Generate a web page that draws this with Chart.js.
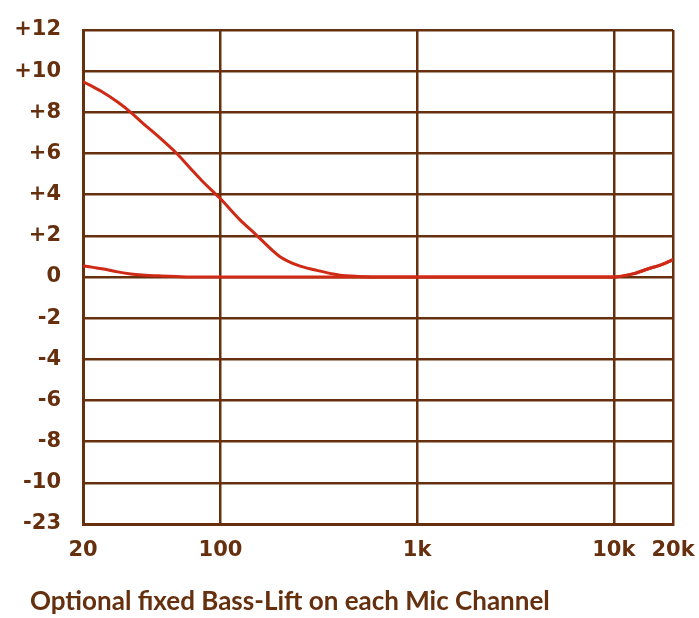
<!DOCTYPE html>
<html>
<head>
<meta charset="utf-8">
<script src="https://cdn.jsdelivr.net/npm/chart.js@4/dist/chart.umd.min.js"></script>
<style>
  html, body { margin: 0; padding: 0; background: #fff; }
  #wrap { width: 699px; height: 618px; }
</style>
</head>
<body>
<div id="wrap"><canvas id="eq-chart" width="699" height="618"></canvas></div>
<script>
// Fréquences (Hz) et niveaux (dB)
const freqs = [20, 25, 30, 35, 40, 50, 60, 70, 80, 100, 125, 150, 200, 250, 300, 400, 500, 700, 1000, 2000, 5000, 10000, 12500, 15000, 17500, 20000];
const bassLift = [9.5, 9.0, 8.5, 8.0, 7.5, 6.7, 6.0, 5.3, 4.7, 3.8, 2.8, 2.1, 1.0, 0.55, 0.35, 0.1, 0.03, 0, 0, 0, 0, 0, 0.15, 0.4, 0.6, 0.85];
const flatResponse = [0.55, 0.4, 0.25, 0.15, 0.1, 0.05, 0.02, 0, 0, 0, 0, 0, 0, 0, 0, 0, 0, 0, 0, 0, 0, 0, 0.15, 0.4, 0.6, 0.85];

// Graduations
const xTickValues = [20, 100, 1000, 10000, 20000];
const xTickLabels = ['20', '100', '1k', '10k', '20k'];
const yTickValues = [-12, -10, -8, -6, -4, -2, 0, 2, 4, 6, 8, 10, 12];
const yTickLabels = ['-23', '-10', '-8', '-6', '-4', '-2', '0', '+2', '+4', '+6', '+8', '+10', '+12'];
const caption = 'Optional fixed Bass-Lift on each Mic Channel';

const brown = '#66300f';
const red = '#cf2a16';
const tickFont = '"DejaVu Sans", sans-serif';
const captionFont = 'Lato, "DejaVu Sans", sans-serif';

function toPoints(values) {
    return freqs.map((f, i) => ({ x: f, y: values[i] }));
}

// Légende sous le graphe
const captionPlugin = {
    id: 'caption',
    afterDraw(chart) {
        const ctx = chart.ctx;
        ctx.save();
        ctx.fillStyle = brown;
        ctx.font = 'bold 26px ' + captionFont;
        ctx.textBaseline = 'middle';
        ctx.textAlign = 'left';
        ctx.fillText(caption, 30, 602);
        ctx.restore();
    }
};

const ctx = document.getElementById('eq-chart').getContext('2d');
new Chart(ctx, {
    type: 'line',
    data: {
        datasets: [
            { data: toPoints(bassLift), borderColor: red, borderWidth: 3, pointRadius: 0, cubicInterpolationMode: 'monotone', fill: false },
            { data: toPoints(flatResponse), borderColor: red, borderWidth: 3, pointRadius: 0, cubicInterpolationMode: 'monotone', fill: false }
        ]
    },
    options: {
        responsive: false,
        animation: false,
        layout: { padding: { top: 30, right: 26, bottom: 0, left: 0 } },
        plugins: { legend: { display: false }, tooltip: { enabled: false }, title: { display: false } },
        scales: {
            x: {
                type: 'logarithmic',
                min: 20,
                max: 20000,
                afterBuildTicks: scale => { scale.ticks = xTickValues.map(v => ({ value: v })); },
                afterFit: scale => {
                    scale.height = 94;
                    scale.paddingLeft = 0;
                    scale.paddingRight = 0;
                },
                ticks: {
                    autoSkip: false,
                    maxRotation: 0,
                    padding: 14,
                    color: brown,
                    font: { family: tickFont, size: 21, weight: 'bold' },
                    callback: value => xTickLabels[xTickValues.indexOf(value)]
                },
                grid: { color: brown, lineWidth: 2.5, drawTicks: false },
                border: { color: brown, width: 3 }
            },
            y: {
                min: -12,
                max: 12,
                afterBuildTicks: scale => { scale.ticks = yTickValues.map(v => ({ value: v })); },
                afterFit: scale => {
                    scale.width = 83;
                    scale.paddingTop = 0;
                    scale.paddingBottom = 0;
                },
                ticks: {
                    padding: 22,
                    color: brown,
                    font: { family: tickFont, size: 21, weight: 'bold' },
                    callback: value => yTickLabels[yTickValues.indexOf(value)]
                },
                grid: { color: brown, lineWidth: 2.5, drawTicks: false },
                border: { color: brown, width: 3 }
            }
        }
    },
    plugins: [captionPlugin]
});
</script>
</body>
</html>
